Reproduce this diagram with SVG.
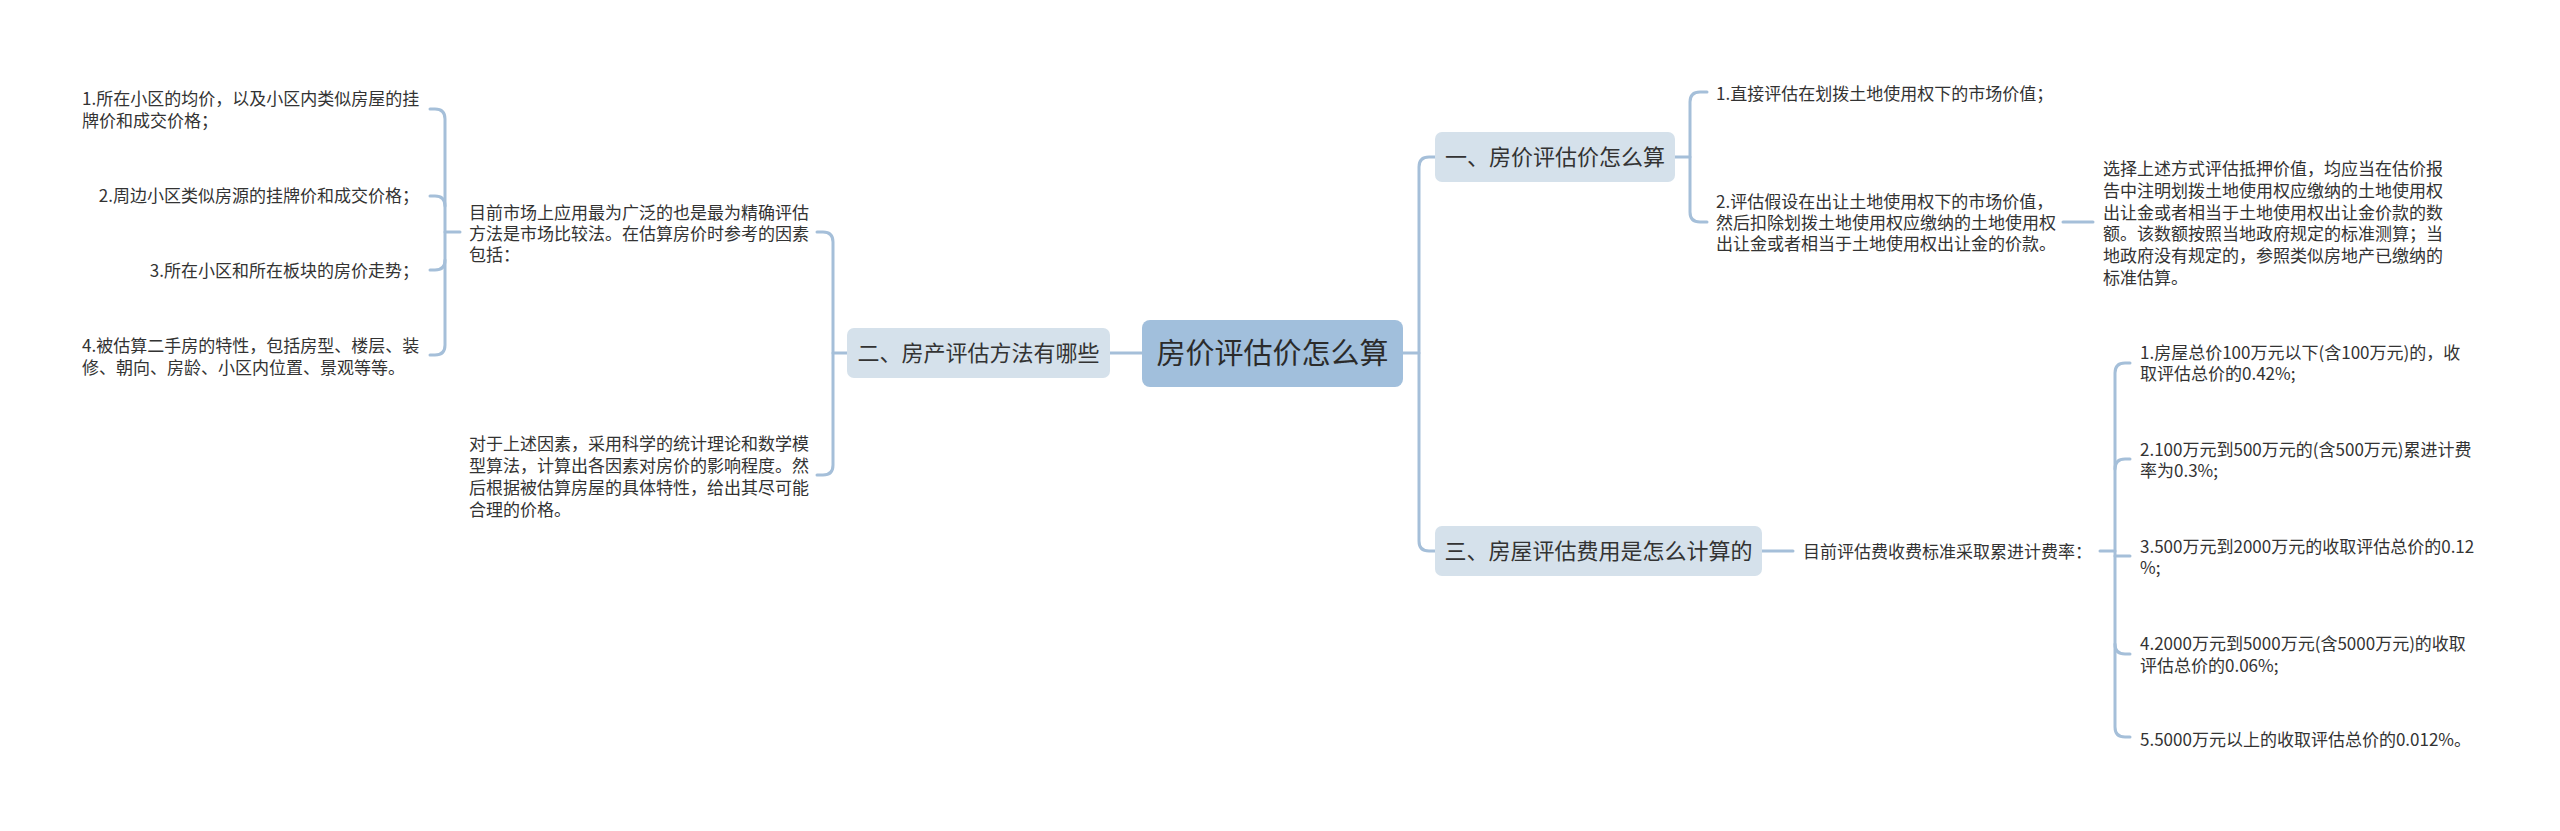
<svg xmlns="http://www.w3.org/2000/svg" width="2560" height="831" viewBox="0 0 2560 831">
<style>
.bg{fill:#ffffff}
.c{fill:none;stroke:#a5bfd9;stroke-width:3;stroke-linecap:round;stroke-linejoin:round}
.root{fill:#a1bfdc}
.sub{fill:#d5e1eb}
text{font-family:"Microsoft YaHei","Noto Sans CJK SC","Noto Sans",sans-serif;fill:#333333}
.t{font-size:17px}
.tr{font-size:17px;text-anchor:end}
.n{font-size:22px;text-anchor:middle}
.r{font-size:29px;text-anchor:middle;fill:#2b2b2b}
</style>
<rect class="bg" x="0" y="0" width="2560" height="831"/>
<g id="connectors">
<path class="c" d="M430,109 H435 Q445,109 445,119 V345 Q445,355 435,355 H430"/>
<path class="c" d="M430,196 H435 Q445,196 445,206"/>
<path class="c" d="M430,270 H435 Q445,270 445,260"/>
<path class="c" d="M445,232 H460"/>
<path class="c" d="M817,232 H823 Q833,232 833,242 V465 Q833,475 823,475 H817"/>
<path class="c" d="M833,353 H847"/>
<path class="c" d="M1110,353 H1142"/>
<path class="c" d="M1403,353 H1419"/>
<path class="c" d="M1435,157 H1429 Q1419,157 1419,167 V541 Q1419,551 1429,551 H1435"/>
<path class="c" d="M1675,157 H1690"/>
<path class="c" d="M1707,92 H1700 Q1690,92 1690,102 V212 Q1690,222 1700,222 H1707"/>
<path class="c" d="M2063,222 H2093"/>
<path class="c" d="M1762,551 H1793"/>
<path class="c" d="M2100,551 H2115"/>
<path class="c" d="M2130,363 H2125 Q2115,363 2115,373 V727 Q2115,737 2125,737 H2130"/>
<path class="c" d="M2130,459 H2125 Q2115,459 2115,469"/>
<path class="c" d="M2130,556 H2115"/>
<path class="c" d="M2130,654 H2125 Q2115,654 2115,644"/>
</g>
<g id="root">
<rect class="root" x="1142" y="320" width="261" height="67" rx="8"/>
<text class="r" x="1272.5" y="364">房价评估价怎么算</text>
</g>
<g id="b1">
<rect class="sub" x="1435" y="132" width="240" height="50" rx="7"/>
<text class="n" x="1555" y="165">一、房价评估价怎么算</text>
</g>
<g id="b2">
<rect class="sub" x="847" y="328" width="263" height="50" rx="7"/>
<text class="n" x="978.5" y="361">二、房产评估方法有哪些</text>
</g>
<g id="b3">
<rect class="sub" x="1435" y="526" width="327" height="50" rx="7"/>
<text class="n" x="1598.5" y="559">三、房屋评估费用是怎么计算的</text>
</g>
<g id="b1-1">
<text class="t" x="1716" y="99.5">1.直接评估在划拨土地使用权下的市场价值；</text>
</g>
<g id="b1-2">
<text class="t" x="1716" y="207.5">2.评估假设在出让土地使用权下的市场价值，</text>
<text class="t" x="1716" y="228.5">然后扣除划拨土地使用权应缴纳的土地使用权</text>
<text class="t" x="1716" y="249.5">出让金或者相当于土地使用权出让金的价款。</text>
</g>
<g id="b1-2-1">
<text class="t" x="2103" y="174.5">选择上述方式评估抵押价值，均应当在估价报</text>
<text class="t" x="2103" y="196.5">告中注明划拨土地使用权应缴纳的土地使用权</text>
<text class="t" x="2103" y="218.5">出让金或者相当于土地使用权出让金价款的数</text>
<text class="t" x="2103" y="239.5">额。该数额按照当地政府规定的标准测算；当</text>
<text class="t" x="2103" y="261.5">地政府没有规定的，参照类似房地产已缴纳的</text>
<text class="t" x="2103" y="283.5">标准估算。</text>
</g>
<g id="b2-1">
<text class="t" x="469" y="218.5">目前市场上应用最为广泛的也是最为精确评估</text>
<text class="t" x="469" y="239.5">方法是市场比较法。在估算房价时参考的因素</text>
<text class="t" x="469" y="260.5">包括：</text>
</g>
<g id="b2-1-1">
<text class="t" x="82" y="104.5">1.所在小区的均价，以及小区内类似房屋的挂</text>
<text class="t" x="82" y="126.5">牌价和成交价格；</text>
</g>
<g id="b2-1-2">
<text class="tr" x="419" y="201.5">2.周边小区类似房源的挂牌价和成交价格；</text>
</g>
<g id="b2-1-3">
<text class="tr" x="419" y="276.5">3.所在小区和所在板块的房价走势；</text>
</g>
<g id="b2-1-4">
<text class="t" x="82" y="351.5">4.被估算二手房的特性，包括房型、楼层、装</text>
<text class="t" x="82" y="373.5">修、朝向、房龄、小区内位置、景观等等。</text>
</g>
<g id="b2-2">
<text class="t" x="469" y="449.5">对于上述因素，采用科学的统计理论和数学模</text>
<text class="t" x="469" y="471.5">型算法，计算出各因素对房价的影响程度。然</text>
<text class="t" x="469" y="493.5">后根据被估算房屋的具体特性，给出其尽可能</text>
<text class="t" x="469" y="515.5">合理的价格。</text>
</g>
<g id="b3-1">
<text class="t" x="1803" y="557.5">目前评估费收费标准采取累进计费率：</text>
</g>
<g id="b3-1-1">
<text class="t" x="2140" y="358.5">1.房屋总价100万元以下(含100万元)的，收</text>
<text class="t" x="2140" y="379.5">取评估总价的0.42%;</text>
</g>
<g id="b3-1-2">
<text class="t" x="2140" y="455.5">2.100万元到500万元的(含500万元)累进计费</text>
<text class="t" x="2140" y="476.5">率为0.3%;</text>
</g>
<g id="b3-1-3">
<text class="t" x="2140" y="552.5">3.500万元到2000万元的收取评估总价的0.12</text>
<text class="t" x="2140" y="573.5">%;</text>
</g>
<g id="b3-1-4">
<text class="t" x="2140" y="649.5">4.2000万元到5000万元(含5000万元)的收取</text>
<text class="t" x="2140" y="671.5">评估总价的0.06%;</text>
</g>
<g id="b3-1-5">
<text class="t" x="2140" y="745.5">5.5000万元以上的收取评估总价的0.012%。</text>
</g>
</svg>
